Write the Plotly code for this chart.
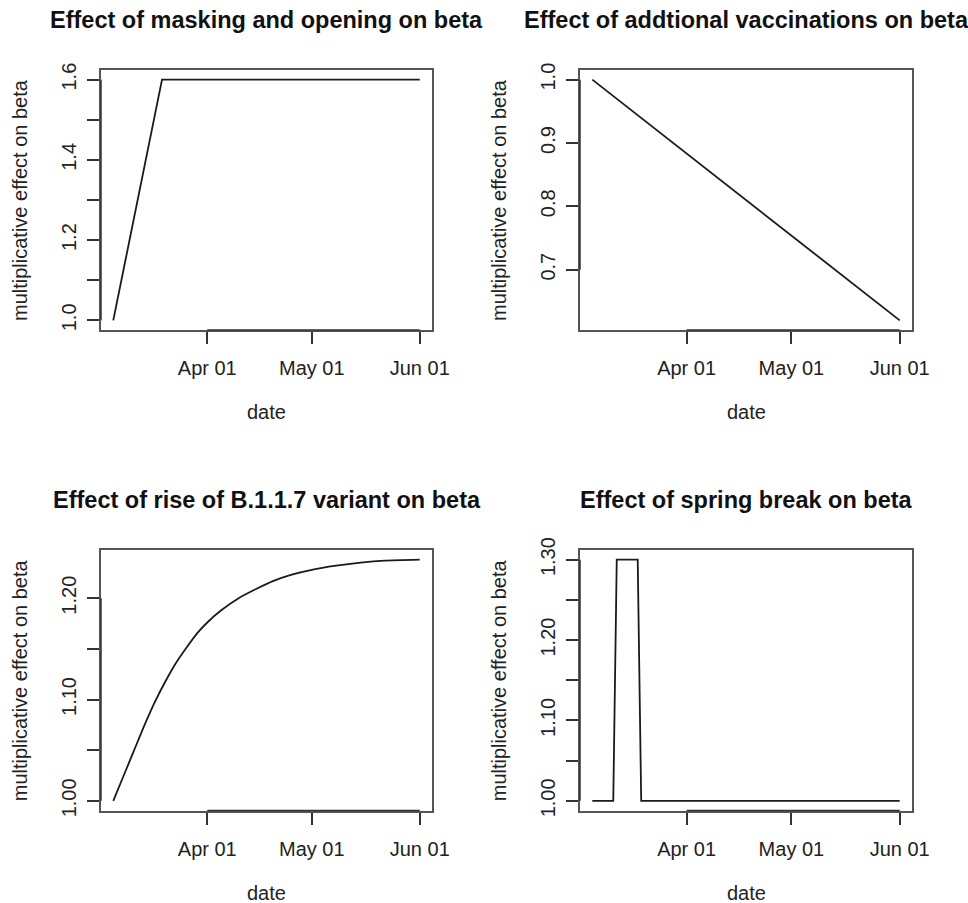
import pandas as pd
import plotly.graph_objects as go

# ---------------- data ----------------
mask_dates = ["2021-03-05", "2021-03-19", "2021-06-01"]
mask_vals = [1.0, 1.6, 1.6]

vacc_dates = ["2021-03-05", "2021-06-01"]
vacc_vals = [1.0, 0.62]

variant_dates = ["2021-03-05", "2021-03-08", "2021-03-11", "2021-03-14", "2021-03-17",
                 "2021-03-20", "2021-03-23", "2021-03-26", "2021-03-29", "2021-04-01",
                 "2021-04-05", "2021-04-10", "2021-04-15", "2021-04-20", "2021-04-25",
                 "2021-05-01", "2021-05-08", "2021-05-15", "2021-05-22", "2021-06-01"]
variant_vals = [1.000, 1.025, 1.050, 1.075, 1.098,
                1.118, 1.136, 1.151, 1.165, 1.176,
                1.188, 1.200, 1.209, 1.217, 1.223,
                1.228, 1.232, 1.235, 1.237, 1.238]

spring_dates = ["2021-03-05", "2021-03-11", "2021-03-12", "2021-03-18", "2021-03-19", "2021-06-01"]
spring_vals = [1.0, 1.0, 1.3, 1.3, 1.0, 1.0]

x_tickvals = ["2021-04-01", "2021-05-01", "2021-06-01"]
x_ticktext = ["Apr 01", "May 01", "Jun 01"]

mask_yticks = [1.0, 1.1, 1.2, 1.3, 1.4, 1.5, 1.6]
mask_ytext = ["1.0", "", "1.2", "", "1.4", "", "1.6"]
vacc_yticks = [0.7, 0.8, 0.9, 1.0]
vacc_ytext = ["0.7", "0.8", "0.9", "1.0"]
variant_yticks = [1.00, 1.05, 1.10, 1.15, 1.20]
variant_ytext = ["1.00", "", "1.10", "", "1.20"]
spring_yticks = [1.00, 1.05, 1.10, 1.15, 1.20, 1.25, 1.30]
spring_ytext = ["1.00", "", "1.10", "", "1.20", "", "1.30"]

titles = ["Effect of masking and opening on beta",
          "Effect of addtional vaccinations on beta",
          "Effect of rise of B.1.1.7 variant on beta",
          "Effect of spring break on beta"]
x_title = "date"
y_title = "multiplicative effect on beta"

# ---------------- layout ----------------
W, H = 968, 903
xdoms = [[101 / W, 432 / W], [580 / W, 912 / W]]
ydoms_top = [1 - 330 / H, 1 - 70 / H]
ydoms_bot = [1 - 810.5 / H, 1 - 550 / H]

panels = [
    (mask_dates, mask_vals, mask_yticks, mask_ytext, xdoms[0], ydoms_top),
    (vacc_dates, vacc_vals, vacc_yticks, vacc_ytext, xdoms[1], ydoms_top),
    (variant_dates, variant_vals, variant_yticks, variant_ytext, xdoms[0], ydoms_bot),
    (spring_dates, spring_vals, spring_yticks, spring_ytext, xdoms[1], ydoms_bot),
]

FONT = "Liberation Sans, Arial, sans-serif"
TXT = "#222222"
BOX = "#555555"

fig = go.Figure()
layout = dict(template="none", width=W, height=H, autosize=False,
              margin=dict(l=0, r=0, t=0, b=0, pad=0, autoexpand=False),
              paper_bgcolor="white", plot_bgcolor="white", showlegend=False)
shapes = []
annotations = []

for i, (dates, vals, yt, ytxt, xd, yd) in enumerate(panels):
    n = "" if i == 0 else str(i + 1)
    d = pd.to_datetime(dates)
    span = d.max() - d.min()
    xr = [d.min() - 0.04 * span, d.max() + 0.04 * span]
    vmin, vmax = min(vals), max(vals)
    yr = [vmin - 0.04 * (vmax - vmin), vmax + 0.04 * (vmax - vmin)]

    fig.add_trace(go.Scatter(x=d, y=vals, mode="lines",
                             line=dict(color="#1a1a1a", width=1.8,
                                       shape="spline" if i == 2 else "linear", smoothing=0.6),
                             xaxis="x" + n, yaxis="y" + n, hoverinfo="skip"))

    common = dict(automargin=False, showline=True, mirror=True, linecolor=BOX, linewidth=2,
                  showgrid=False, zeroline=False, ticks="outside", ticklen=12,
                  tickwidth=2, tickcolor="#333333",
                  tickfont=dict(family=FONT, size=20, color=TXT))
    layout["xaxis" + n] = dict(domain=xd, anchor="y" + n, type="date", range=xr,
                               tickmode="array", tickvals=x_tickvals, ticktext=x_ticktext,
                               ticklabelstandoff=7, **common)
    layout["yaxis" + n] = dict(domain=yd, anchor="x" + n, range=yr,
                               tickmode="array", tickvals=yt, ticktext=ytxt,
                               tickangle=-90, ticklabelstandoff=3, **common)

    # R-style axis segments (first to last tick)
    shapes.append(dict(type="line", xref="x" + n, yref="y" + n + " domain",
                       x0=x_tickvals[0], x1=x_tickvals[-1], y0=0, y1=0,
                       line=dict(color="#333333", width=1.5)))
    shapes.append(dict(type="line", xref="x" + n + " domain", yref="y" + n,
                       x0=0, x1=0, y0=yt[0], y1=yt[-1],
                       line=dict(color="#333333", width=1.5)))

    xc = (xd[0] + xd[1]) / 2
    annotations.append(dict(text="<b>" + titles[i] + "</b>", xref="paper", yref="paper",
                            x=xc, y=yd[1], yshift=50, showarrow=False,
                            xanchor="center", yanchor="middle",
                            font=dict(family=FONT, size=23.5, color="#111111")))
    annotations.append(dict(text=x_title, xref="paper", yref="paper",
                            x=xc, y=yd[0], yshift=-82, showarrow=False,
                            xanchor="center", yanchor="middle",
                            font=dict(family=FONT, size=20, color=TXT)))
    annotations.append(dict(text=y_title, xref="paper", yref="paper",
                            x=xd[0], xshift=-81, y=(yd[0] + yd[1]) / 2, showarrow=False,
                            textangle=-90, xanchor="center", yanchor="middle",
                            font=dict(family=FONT, size=20, color=TXT)))

layout["shapes"] = shapes
layout["annotations"] = annotations
fig.update_layout(**layout)
fig.write_html("out.html",
               config={"displayModeBar": False, "staticPlot": True},
               post_script="document.body.style.margin='0px';"
                           "document.body.style.overflow='hidden';")
